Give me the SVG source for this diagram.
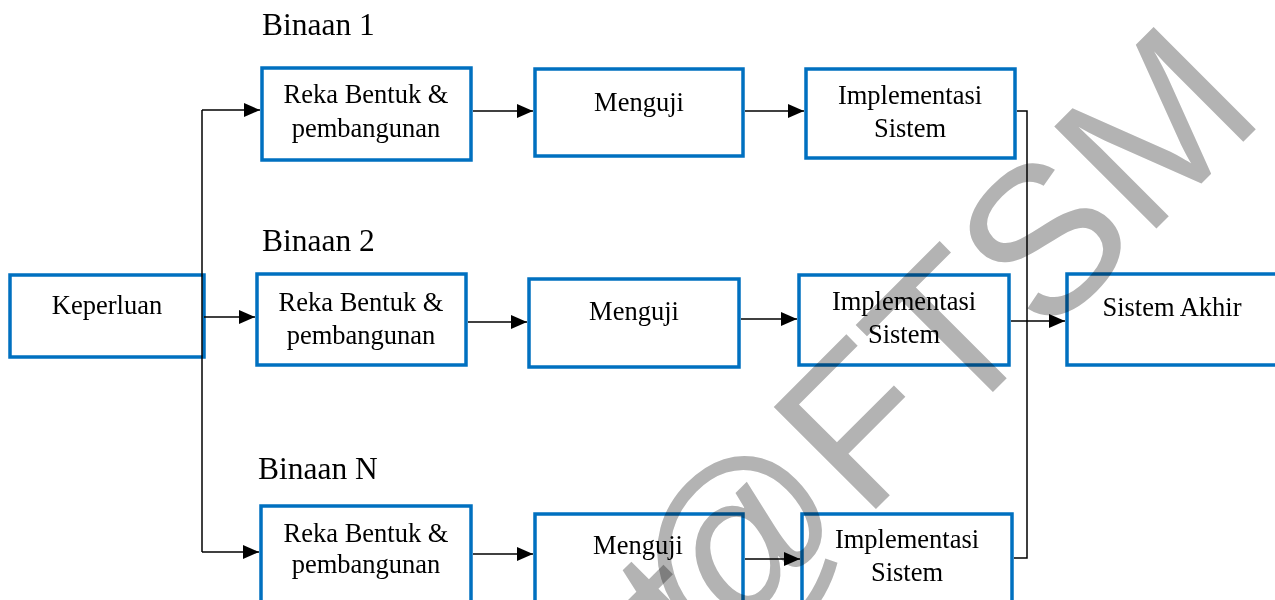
<svg xmlns="http://www.w3.org/2000/svg" width="1275" height="600" viewBox="0 0 1275 600">
<style>
.box{fill:none;stroke:#0070C0;stroke-width:3.5}
.t{font-family:"Liberation Serif","Times New Roman",serif;font-size:26.5px;fill:#000;text-anchor:middle}
.lbl{font-family:"Liberation Serif","Times New Roman",serif;font-size:31.5px;fill:#000}
.c{fill:none;stroke:#000;stroke-width:1.5}
.wm{font-family:"Liberation Sans",Arial,sans-serif;font-size:210px;fill:#b3b3b3;mix-blend-mode:multiply}
</style>
<defs>
<marker id="arr" markerWidth="16" markerHeight="14" refX="16" refY="7" orient="auto" markerUnits="userSpaceOnUse">
<path d="M0,0 L16,7 L0,14 z" fill="#000"/>
</marker>
</defs>
<rect width="1275" height="600" fill="#fff"/>
<text class="lbl" x="262" y="35">Binaan 1</text>
<text class="lbl" x="262" y="251">Binaan 2</text>
<text class="lbl" x="258" y="479">Binaan N</text>
<g id="keperluan"><rect class="box" x="10" y="275" width="194" height="82"/><text class="t" x="107" y="314">Keperluan</text></g>
<g id="reka1"><rect class="box" x="262" y="68" width="209" height="92"/><text class="t" x="366" y="103">Reka Bentuk &amp;</text><text class="t" x="366" y="137">pembangunan</text></g>
<g id="menguji1"><rect class="box" x="535" y="69" width="208" height="87"/><text class="t" x="639" y="111">Menguji</text></g>
<g id="impl1"><rect class="box" x="806" y="69" width="209" height="89"/><text class="t" x="910" y="104">Implementasi</text><text class="t" x="910" y="137">Sistem</text></g>
<g id="reka2"><rect class="box" x="257" y="274" width="209" height="91"/><text class="t" x="361" y="311">Reka Bentuk &amp;</text><text class="t" x="361" y="344">pembangunan</text></g>
<g id="menguji2"><rect class="box" x="529" y="279" width="210" height="88"/><text class="t" x="634" y="320">Menguji</text></g>
<g id="impl2"><rect class="box" x="799" y="275" width="210" height="90"/><text class="t" x="904" y="310">Implementasi</text><text class="t" x="904" y="343">Sistem</text></g>
<g id="akhir"><rect class="box" x="1067" y="274" width="220" height="91"/><text class="t" x="1172" y="316">Sistem Akhir</text></g>
<g id="reka3"><rect class="box" x="261" y="506" width="210" height="100"/><text class="t" x="366" y="542">Reka Bentuk &amp;</text><text class="t" x="366" y="573">pembangunan</text></g>
<g id="menguji3"><rect class="box" x="535" y="514" width="208" height="100"/><text class="t" x="638" y="554">Menguji</text></g>
<g id="impl3"><rect class="box" x="802" y="514" width="210" height="100"/><text class="t" x="907" y="548">Implementasi</text><text class="t" x="907" y="581">Sistem</text></g>
<g id="connectors">
<path class="c" d="M202,110 V552"/>
<path class="c" d="M202,110 H260" marker-end="url(#arr)"/>
<path class="c" d="M204,317 H255" marker-end="url(#arr)"/>
<path class="c" d="M202,552 H259" marker-end="url(#arr)"/>
<path class="c" d="M473,111 H533" marker-end="url(#arr)"/>
<path class="c" d="M745,111 H804" marker-end="url(#arr)"/>
<path class="c" d="M468,322 H527" marker-end="url(#arr)"/>
<path class="c" d="M741,319 H797" marker-end="url(#arr)"/>
<path class="c" d="M473,554 H533" marker-end="url(#arr)"/>
<path class="c" d="M745,559 H800" marker-end="url(#arr)"/>
<path class="c" d="M1017,111 H1027 V558 H1014"/>
<path class="c" d="M1011,321 H1065" marker-end="url(#arr)"/>
</g>
<g id="watermark" transform="translate(672,713) rotate(-45)">
<text class="wm" x="44" y="0">t</text>
<text class="wm" x="58" y="0">@FTSM</text>
</g>
</svg>
